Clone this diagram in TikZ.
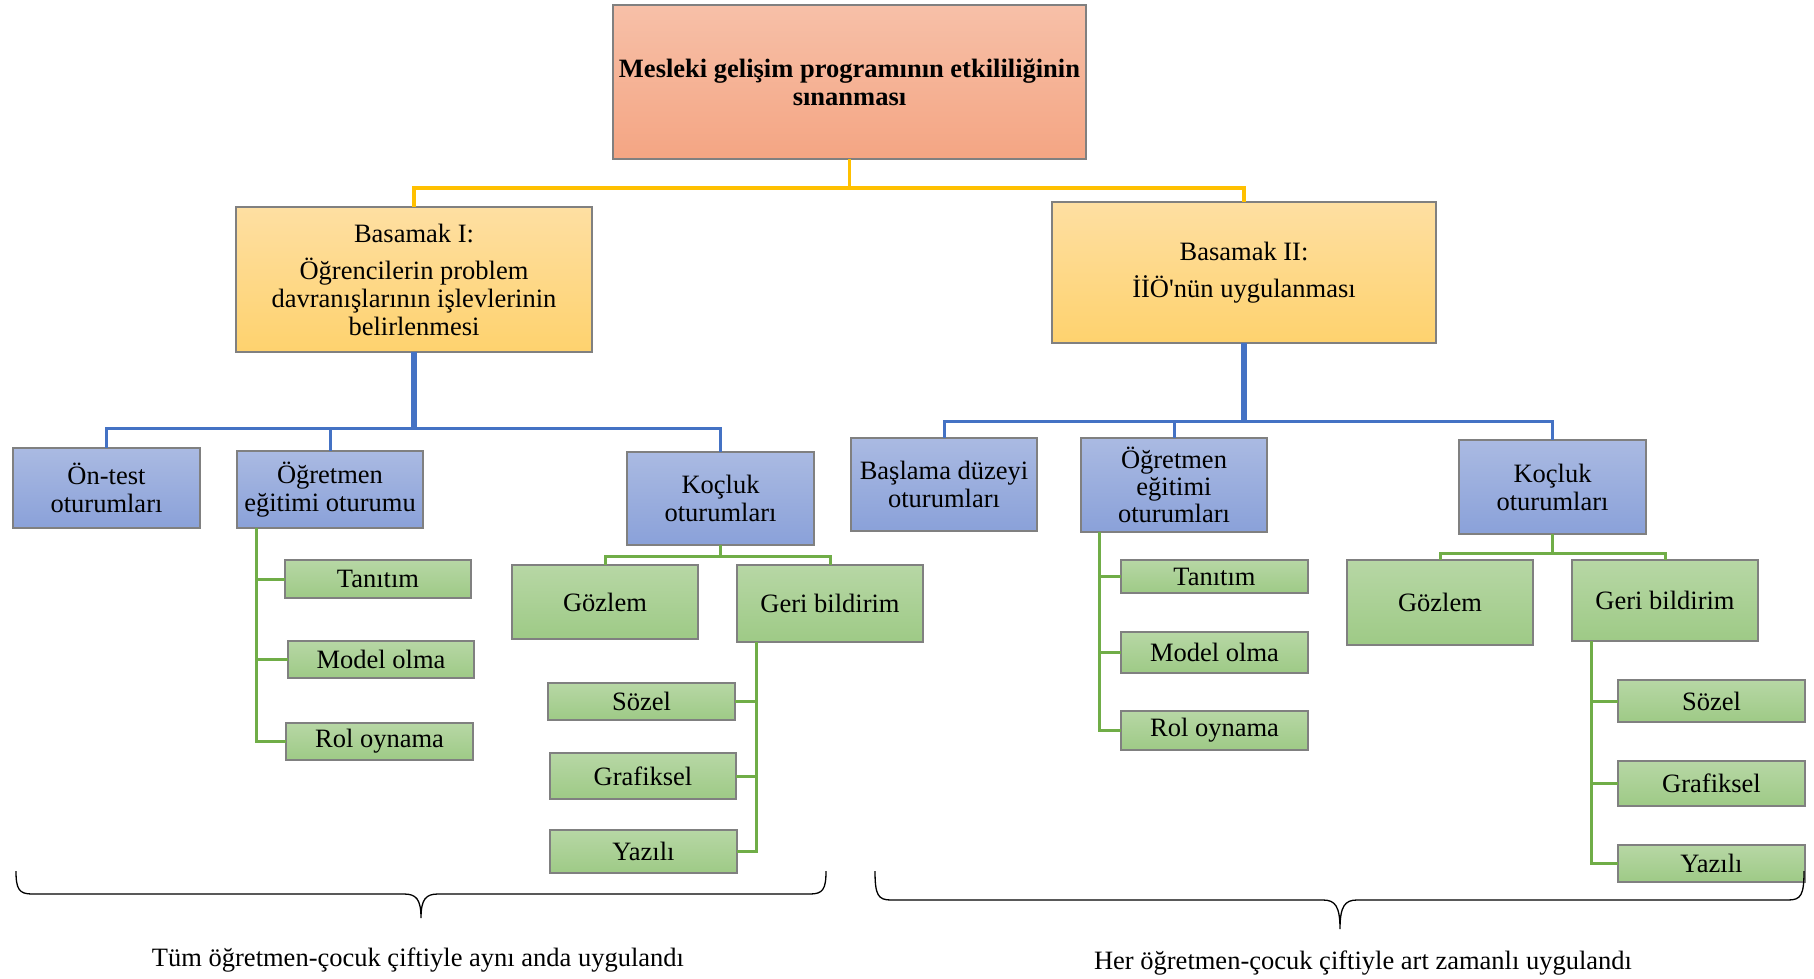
\documentclass[tikz,border=0pt]{standalone}
\usepackage{fontspec}
\setmainfont{Liberation Serif}
\usetikzlibrary{calc}

\definecolor{salmontop}{HTML}{F7C0A8}
\definecolor{salmonbot}{HTML}{F4A583}
\definecolor{goldtop}{HTML}{FEDFA2}
\definecolor{goldbot}{HTML}{FED26E}
\definecolor{bluetop}{HTML}{AABAE2}
\definecolor{bluebot}{HTML}{8AA1D9}
\definecolor{greentop}{HTML}{B7D7A5}
\definecolor{greenbot}{HTML}{9ECA86}
\definecolor{edgegray}{HTML}{808080}
\definecolor{linkgold}{HTML}{FFC000}
\definecolor{linkblue}{HTML}{4472C4}
\definecolor{linkgreen}{HTML}{70AD47}

\newcommand\boxfont{\fontsize{26.5}{28}\selectfont}

\begin{document}
\begin{tikzpicture}[x=1pt,y=-1pt,
  card/.style={draw=edgegray, line width=1.3pt, inner sep=0pt, outer sep=0pt,
               align=center, font=\boxfont},
  salmoncard/.style={card, top color=salmontop, bottom color=salmonbot},
  goldcard/.style={card, top color=goldtop, bottom color=goldbot},
  bluecard/.style={card, top color=bluetop, bottom color=bluebot},
  greencard/.style={card, top color=greentop, bottom color=greenbot},
  goldlink/.style={draw=linkgold, line width=3.5pt},
  bluelink/.style={draw=linkblue, line width=3pt},
  bluetrunk/.style={draw=linkblue, line width=5.5pt},
  greenlink/.style={draw=linkgreen, line width=3pt},
  bracket/.style={draw=black, line width=1.3pt},
  note/.style={font=\boxfont, anchor=base, inner sep=0pt}
]
\useasboundingbox (0,0) rectangle (1814,978);

% root
\node[salmoncard, minimum width=473pt, minimum height=154pt,
      font=\boxfont\bfseries] (root) at (849.5,82)
  {Mesleki gelişim programının etkililiğinin\\sınanması};

% stages
\node[goldcard, minimum width=356pt, minimum height=145pt] (b1) at (414,279.5)
  {Basamak I:\\[9pt]Öğrencilerin problem\\davranışlarının işlevlerinin\\belirlenmesi};
\node[goldcard, minimum width=384pt, minimum height=141pt] (b2) at (1244,272.5)
  {Basamak II:\\[9pt]İİÖ\textquotesingle nün uygulanması};

% stage I sessions
\node[bluecard, minimum width=187pt, minimum height=80pt] (ontest) at (106.5,488)
  {Ön-test\\oturumları};
\node[bluecard, minimum width=186pt, minimum height=77pt] (ogrL) at (330,489.5)
  {Öğretmen\\eğitimi oturumu};
\node[bluecard, minimum width=187pt, minimum height=93pt] (kocL) at (720.5,498.5)
  {Koçluk\\oturumları};

\node[greencard, minimum width=186pt, minimum height=38pt] (tanL) at (378,579) {Tanıtım};
\node[greencard, minimum width=186pt, minimum height=37pt] (modL) at (381,659.5) {Model olma};
\node[greencard, minimum width=187pt, minimum height=37pt] (rolL) at (379.5,741.5) {Rol oynama};

\node[greencard, minimum width=186pt, minimum height=74pt] (gozL) at (605,602) {Gözlem};
\node[greencard, minimum width=186pt, minimum height=77pt] (geriL) at (830,603.5) {Geri bildirim};
\node[greencard, minimum width=187pt, minimum height=37pt] (sozL) at (641.5,701.5) {Sözel};
\node[greencard, minimum width=186pt, minimum height=46pt] (grafL) at (643,776) {Grafiksel};
\node[greencard, minimum width=187pt, minimum height=43pt] (yazL) at (643.5,851.5) {Yazılı};

% stage II sessions
\node[bluecard, minimum width=186pt, minimum height=93pt] (basla) at (944,484.5)
  {Başlama düzeyi\\oturumları};
\node[bluecard, minimum width=186pt, minimum height=94pt,
      font=\fontsize{26.5}{27}\selectfont] (ogrR) at (1174,485)
  {Öğretmen\\eğitimi\\oturumları};
\node[bluecard, minimum width=187pt, minimum height=94pt] (kocR) at (1552.5,487)
  {Koçluk\\oturumları};

\node[greencard, minimum width=187pt, minimum height=33pt] (tanR) at (1214.5,576.5) {Tanıtım};
\node[greencard, minimum width=187pt, minimum height=41pt] (modR) at (1214.5,652.5) {Model olma};
\node[greencard, minimum width=187pt, minimum height=39pt] (rolR) at (1214.5,730.5) {Rol oynama};

\node[greencard, minimum width=186pt, minimum height=85pt] (gozR) at (1440,602.5) {Gözlem};
\node[greencard, minimum width=186pt, minimum height=81pt] (geriR) at (1665,600.5) {Geri bildirim};
\node[greencard, minimum width=187pt, minimum height=42pt] (sozR) at (1711.5,701) {Sözel};
\node[greencard, minimum width=187pt, minimum height=45pt] (grafR) at (1711.5,783.5) {Grafiksel};
\node[greencard, minimum width=187pt, minimum height=37pt] (yazR) at (1711.5,863.5) {Yazılı};

% root to stages
\coordinate (goldbus) at (849.5,188);
\draw[goldlink] (root.south) -- (goldbus);
\draw[goldlink] (goldbus) -| (b1.north);
\draw[goldlink] (goldbus) -| (b2.north);

% stage I to its sessions
\coordinate (lbus) at (414,428);
\draw[bluetrunk] (b1.south) -- (lbus);
\draw[bluelink] (lbus) -| (ontest.north);
\draw[bluelink] (lbus) -| (ogrL.north);
\draw[bluelink] (lbus) -| (kocL.north);

% stage II to its sessions
\coordinate (rbus) at (1244,421);
\draw[bluetrunk] (b2.south) -- (rbus);
\draw[bluelink] (rbus) -| (basla.north);
\draw[bluelink] (rbus) -| (ogrR.north);
\draw[bluelink] (rbus) -| (kocR.north);

% teacher training steps (left)
\coordinate (otL) at ($(ogrL.south west)+(19,0)$);
\draw[greenlink] (otL) |- (tanL.west);
\draw[greenlink] (otL) |- (modL.west);
\draw[greenlink] (otL) |- (rolL.west);

% coaching (left)
\coordinate (kgL) at (720.5,556);
\draw[greenlink] (kocL.south) -- (kgL);
\draw[greenlink] (kgL) -| (gozL.north);
\draw[greenlink] (kgL) -| (geriL.north);
\coordinate (gtL) at ($(geriL.south west)+(19,0)$);
\draw[greenlink] (gtL) |- (sozL.east);
\draw[greenlink] (gtL) |- (grafL.east);
\draw[greenlink] (gtL) |- (yazL.east);

% teacher training steps (right)
\coordinate (otR) at ($(ogrR.south west)+(18,0)$);
\draw[greenlink] (otR) |- (tanR.west);
\draw[greenlink] (otR) |- (modR.west);
\draw[greenlink] (otR) |- (rolR.west);

% coaching (right)
\coordinate (kgR) at (1552.5,553);
\draw[greenlink] (kocR.south) -- (kgR);
\draw[greenlink] (kgR) -| (gozR.north);
\draw[greenlink] (kgR) -| (geriR.north);
\coordinate (gtR) at ($(geriR.south west)+(19,0)$);
\draw[greenlink] (gtR) |- (sozR.west);
\draw[greenlink] (gtR) |- (grafR.west);
\draw[greenlink] (gtR) |- (yazR.west);

% braces
\draw[bracket] (16,871) .. controls (16,889) and (19,894) .. (32,894)
  -- (404,894) .. controls (416,894) and (421,899) .. (421,918)
  .. controls (421,899) and (426,894) .. (438,894)
  -- (810,894) .. controls (823,894) and (826,889) .. (826,871);
\draw[bracket] (875,871) .. controls (875,895) and (878,900) .. (891,900)
  -- (1323,900) .. controls (1335,900) and (1340,906) .. (1340,929)
  .. controls (1340,906) and (1345,900) .. (1357,900)
  -- (1788,900) .. controls (1801,900) and (1804,895) .. (1804,871);

\node[note] (leftnote) at (418,966) {Tüm öğretmen-çocuk çiftiyle aynı anda uygulandı};
\node[note] (rightnote) at (1363,969) {Her öğretmen-çocuk çiftiyle art zamanlı uygulandı};
\end{tikzpicture}
\end{document}
